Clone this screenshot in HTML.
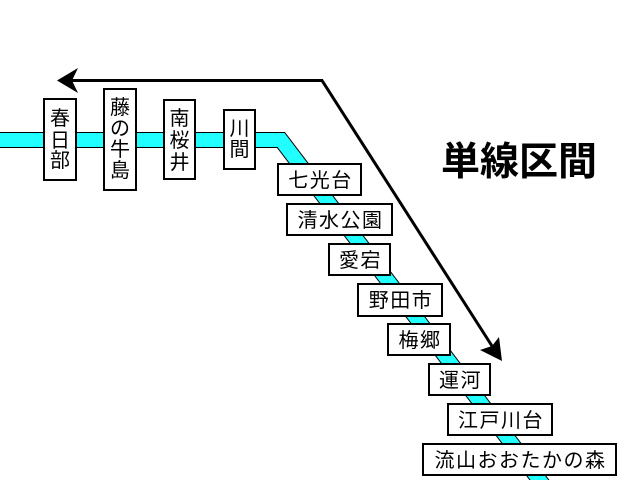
<!DOCTYPE html>
<html><head><meta charset="utf-8"><style>
html,body{margin:0;padding:0;background:#fff;}
svg{display:block;}
text{font-family:"Liberation Sans","Noto Sans CJK JP",sans-serif;fill:#000;}
</style></head><body>
<svg width="640" height="480" viewBox="0 0 640 480" xmlns="http://www.w3.org/2000/svg">
<rect width="640" height="480" fill="#fff"/>
<!-- cyan track -->
<polyline points="-5,140 281,140 547,490" fill="none" stroke="#000" stroke-width="16" stroke-linejoin="miter"/>
<polyline points="-5,140 281,140 547,490" fill="none" stroke="#22ffff" stroke-width="14" stroke-linejoin="miter"/>
<!-- black arrows -->
<polyline points="72,80.5 322,80.5 492,346" fill="none" stroke="#000" stroke-width="3" stroke-linejoin="miter"/>
<polygon points="57,80.5 78,68 72,80.5 78,93" fill="#000"/>
<polygon points="502,361 480,350 492,346 499,337" fill="#000"/>
<!-- title -->
<text x="441" y="175" font-size="39" font-weight="bold">単線区間</text>
<!-- vertical boxes -->
<g fill="#fff" stroke="#000" stroke-width="2">
<rect x="44" y="99" width="32" height="81"/>
<rect x="104" y="89" width="32" height="101"/>
<rect x="164" y="100" width="31" height="79"/>
<rect x="224" y="110" width="31" height="59"/>
<rect x="278" y="164" width="83" height="31"/>
<rect x="287" y="204" width="105" height="31"/>
<rect x="329" y="244" width="61" height="31"/>
<rect x="358" y="284" width="84" height="32"/>
<rect x="388" y="324" width="62" height="31"/>
<rect x="429" y="364" width="61" height="31"/>
<rect x="448" y="404" width="104" height="31"/>
<rect x="423" y="444" width="193" height="31"/>
</g>
<g font-size="20" text-anchor="middle">
<text x="60" y="125">春</text>
<text x="60" y="147">日</text>
<text x="60" y="167">部</text>
<text x="120" y="114">藤</text>
<text x="120" y="135">の</text>
<text x="120" y="156">牛</text>
<text x="120" y="177">島</text>
<text x="179.5" y="125">南</text>
<text x="179.5" y="147">桜</text>
<text x="179.5" y="169">井</text>
<text x="239.5" y="135">川</text>
<text x="239.5" y="156">間</text>
</g>
<g font-size="20" text-anchor="middle" letter-spacing="1.5">
<text x="320.5" y="187">七光台</text>
<text x="340.5" y="227">清水公園</text>
<text x="360.5" y="267">愛宕</text>
<text x="401" y="307">野田市</text>
<text x="420" y="347">梅郷</text>
<text x="460.5" y="387">運河</text>
<text x="501" y="427">江戸川台</text>
<text x="520.5" y="467">流山おおたかの森</text>
</g>
</svg>
</body></html>
